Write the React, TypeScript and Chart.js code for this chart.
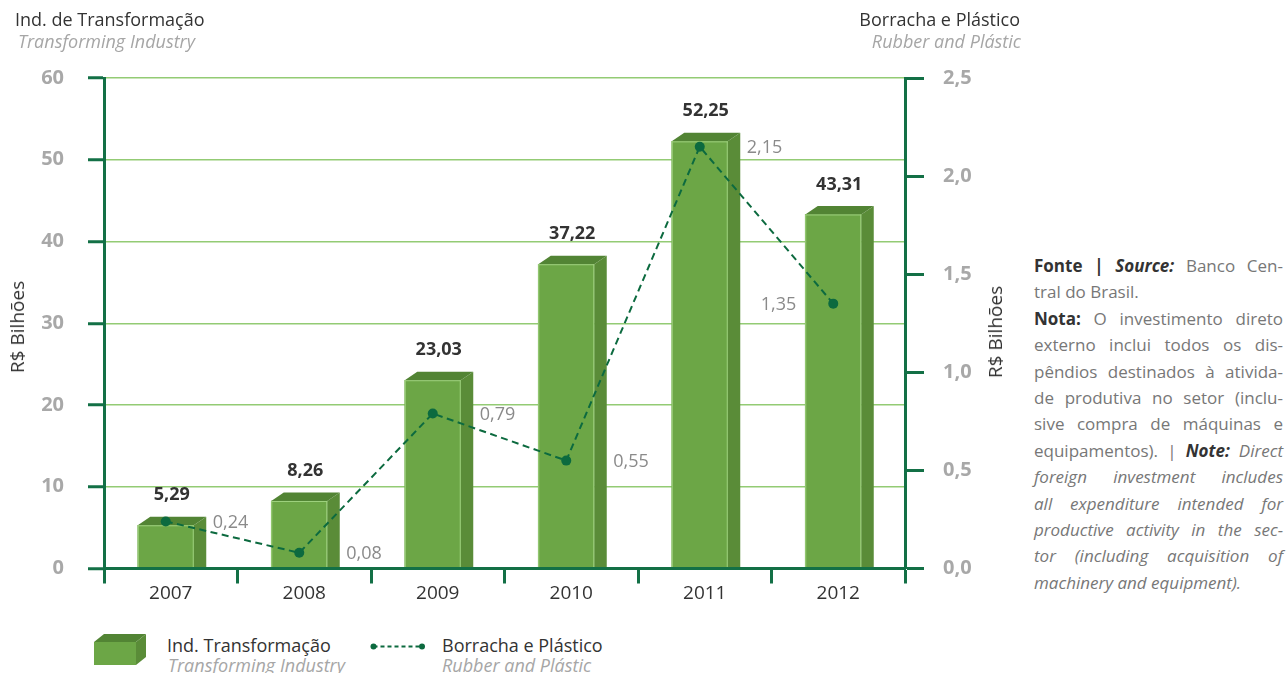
import React, { useEffect, useRef } from "react";
import { Chart, registerables } from "chart.js";

Chart.register(...registerables);

// ---- data ----
const years = ["2007", "2008", "2009", "2010", "2011", "2012"];
const transformacao = [5.29, 8.26, 23.03, 37.22, 52.25, 43.31];
const borracha = [0.24, 0.08, 0.79, 0.55, 2.15, 1.35];
const leftTicks = [0, 10, 20, 30, 40, 50, 60];
const rightTicks = [0, 0.5, 1.0, 1.5, 2.0, 2.5];

// ---- styling ----
const FONT = "'Open Sans'";
const DARK = "#137046";
const LIGHT = "#93cb74";
const FRONT = "#6ca646";
const SIDE = "#5a8c38";
const TOP = "#528434";
const EDGE = "#9fd17f";
const LINE = "#0c6a3f";
const CW = 1030;
const CH = 620;
const AREA_LEFT = 104;
const AREA_RIGHT = 905;
const AREA_TOP = 78;
const AREA_BOTTOM = 568.5;
const SHIFT = -5;
const DX = 12.5;
const DY = 8.5;

const fmt = (v: number, d: number) => v.toFixed(d).replace(".", ",");

const threeDPlugin = {
  id: "threeD",
  beforeDatasetDraw(chart: any) {
    chart.ctx.save();
    chart.ctx.translate(SHIFT, 0);
  },
  afterDatasetDraw(chart: any, args: any) {
    const ctx = chart.ctx;
    if (args.meta.type === "bar") {
      args.meta.data.forEach((el: any) => {
        const { x, y, base, width } = el.getProps(["x", "y", "base", "width"], true);
        const l = x - width / 2;
        const r = x + width / 2;
        ctx.fillStyle = SIDE;
        ctx.beginPath();
        ctx.moveTo(r, y);
        ctx.lineTo(r + DX, y - DY);
        ctx.lineTo(r + DX, base);
        ctx.lineTo(r, base);
        ctx.closePath();
        ctx.fill();
        ctx.fillStyle = TOP;
        ctx.beginPath();
        ctx.moveTo(l, y);
        ctx.lineTo(l + DX, y - DY);
        ctx.lineTo(r + DX, y - DY);
        ctx.lineTo(r, y);
        ctx.closePath();
        ctx.fill();
        ctx.strokeStyle = EDGE;
        ctx.lineWidth = 1;
        ctx.beginPath();
        ctx.moveTo(r - 0.5, y);
        ctx.lineTo(r - 0.5, base);
        ctx.moveTo(l + 0.5, y);
        ctx.lineTo(l + 0.5, base);
        ctx.moveTo(l, y + 0.5);
        ctx.lineTo(r, y + 0.5);
        ctx.stroke();
      });
    }
    ctx.restore();
  },
  afterDatasetsDraw(chart: any) {
    const ctx = chart.ctx;
    ctx.save();
    const barMeta = chart.getDatasetMeta(0);
    ctx.font = `bold 18px ${FONT}`;
    ctx.fillStyle = "#333333";
    ctx.textAlign = "center";
    ctx.textBaseline = "middle";
    barMeta.data.forEach((el: any, i: number) => {
      ctx.fillText(fmt(transformacao[i], 2), el.x + 1, el.y - 30);
    });
    const lineMeta = chart.getDatasetMeta(1);
    ctx.font = `18px ${FONT}`;
    ctx.fillStyle = "#8a8a8a";
    const n = lineMeta.data.length;
    lineMeta.data.forEach((el: any, i: number) => {
      if (i === n - 1) {
        ctx.textAlign = "right";
        ctx.fillText(fmt(borracha[i], 2), el.x - 42, el.y + 1);
      } else {
        ctx.textAlign = "left";
        ctx.fillText(fmt(borracha[i], 2), el.x + 42, el.y + 1);
      }
    });
    ctx.restore();
  },
};

export default function App() {
  const ref = useRef<HTMLCanvasElement>(null);

  useEffect(() => {
    if (!ref.current) return;
    Chart.defaults.font.family = FONT;
    const chart = new Chart(ref.current, {
      type: "bar",
      data: {
        labels: years,
        datasets: [
          {
            type: "bar",
            label: "Ind. Transformação",
            data: transformacao,
            backgroundColor: FRONT,
            borderWidth: 0,
            barThickness: 56,
            yAxisID: "y",
            order: 2,
            clip: false as any,
          },
          {
            type: "line",
            label: "Borracha e Plástico",
            data: borracha,
            borderColor: LINE,
            borderWidth: 2,
            borderDash: [7, 4.5],
            pointRadius: 5,
            pointBackgroundColor: LINE,
            pointBorderWidth: 0,
            tension: 0,
            fill: false,
            yAxisID: "y1",
            order: 1,
            clip: false as any,
          } as any,
        ],
      },
      options: {
        responsive: false,
        animation: false,
        devicePixelRatio: 1,
        events: [],
        layout: { padding: { top: AREA_TOP, left: 0, right: 0, bottom: 0 } },
        plugins: {
          legend: { display: false },
          tooltip: { enabled: false },
        },
        scales: {
          x: {
            type: "category",
            offset: true,
            grid: {
              offset: true,
              drawOnChartArea: false,
              drawTicks: true,
              tickLength: 15,
              tickColor: DARK,
              tickWidth: 3,
            },
            border: { color: DARK, width: 3, z: 1 },
            ticks: {
              color: "#333333",
              font: { size: 19, family: FONT },
              padding: -1,
              maxRotation: 0,
              autoSkip: false,
            },
            afterFit: (s: any) => {
              s.height = CH - AREA_BOTTOM;
            },
          },
          y: {
            type: "linear",
            position: "left",
            min: leftTicks[0],
            max: leftTicks[leftTicks.length - 1],
            afterBuildTicks: (s: any) => {
              s.ticks = leftTicks.map((v) => ({ value: v }));
            },
            ticks: {
              color: "#a8a8a8",
              font: { size: 20, weight: "bold", family: FONT },
              padding: 24,
              callback: (v: any) => String(v),
            },
            grid: {
              color: LIGHT,
              lineWidth: 1.5,
              tickLength: 16,
              tickColor: DARK,
              tickWidth: 3,
            },
            border: { color: DARK, width: 3, z: 1 },
            afterFit: (s: any) => {
              s.width = AREA_LEFT;
            },
          },
          y1: {
            type: "linear",
            position: "right",
            min: rightTicks[0],
            max: rightTicks[rightTicks.length - 1],
            afterBuildTicks: (s: any) => {
              s.ticks = rightTicks.map((v) => ({ value: v }));
            },
            ticks: {
              color: "#a8a8a8",
              font: { size: 20, weight: "bold", family: FONT },
              padding: 19,
              callback: (v: any) => fmt(Number(v), 1),
            },
            grid: {
              drawOnChartArea: false,
              tickLength: 19,
              tickColor: DARK,
              tickWidth: 3,
            },
            border: { color: DARK, width: 3, z: 1 },
            afterFit: (s: any) => {
              s.width = CW - AREA_RIGHT;
            },
          },
        },
      } as any,
      plugins: [threeDPlugin],
    });
    return () => chart.destroy();
  }, []);

  const dark = "#333333";
  const grey = "#a6a6a6";
  const noteGrey = "#777777";
  const lineStyle: React.CSSProperties = {
    height: 26.4,
    lineHeight: "26.4px",
    whiteSpace: "nowrap",
    textAlign: "justify",
    textAlignLast: "justify" as any,
  };
  const lastStyle: React.CSSProperties = { ...lineStyle, textAlignLast: "left" as any, textAlign: "left" };

  return (
    <div
      style={{
        position: "absolute",
        left: 0,
        top: 0,
        width: 1288,
        height: 673,
        overflow: "hidden",
        background: "#ffffff",
        fontFamily: FONT,
      }}
    >
      <canvas
        ref={ref}
        width={CW}
        height={CH}
        style={{ position: "absolute", left: 0, top: 0, width: CW, height: CH }}
      />

      {/* Headers */}
      <div style={{ position: "absolute", left: 15, top: 7, fontSize: 18, lineHeight: "24px", color: dark }}>
        Ind. de Transformação
      </div>
      <div style={{ position: "absolute", left: 18, top: 29, fontSize: 18, lineHeight: "24px", color: grey, fontStyle: "italic" }}>
        Transforming Industry
      </div>
      <div style={{ position: "absolute", right: 1288 - 1020, top: 7, fontSize: 18, lineHeight: "24px", color: dark, textAlign: "right" }}>
        Borracha e Plástico
      </div>
      <div style={{ position: "absolute", right: 1288 - 1021, top: 29, fontSize: 18, lineHeight: "24px", color: grey, fontStyle: "italic", textAlign: "right" }}>
        Rubber and Plástic
      </div>

      {/* Axis titles */}
      <div
        style={{
          position: "absolute",
          left: 17,
          top: 327,
          transform: "translate(-50%, -50%) rotate(-90deg)",
          fontSize: 19,
          color: dark,
          whiteSpace: "nowrap",
        }}
      >
        R$ Bilhões
      </div>
      <div
        style={{
          position: "absolute",
          left: 995,
          top: 332,
          transform: "translate(-50%, -50%) rotate(-90deg)",
          fontSize: 19,
          color: dark,
          whiteSpace: "nowrap",
        }}
      >
        R$ Bilhões
      </div>

      {/* Legend */}
      <svg style={{ position: "absolute", left: 93, top: 633 }} width={56} height={34}>
        <polygon points="1,9 11,1 53,1 43,9" fill={TOP} />
        <polygon points="43,9 53,1 53,24 43,32" fill={SIDE} />
        <rect x={1} y={9} width={42} height={23} fill={FRONT} />
      </svg>
      <div style={{ position: "absolute", left: 167, top: 633, fontSize: 18, lineHeight: "24px", color: dark }}>
        Ind. Transformação
      </div>
      <div style={{ position: "absolute", left: 168, top: 653, fontSize: 18, lineHeight: "24px", color: grey, fontStyle: "italic" }}>
        Transforming Industry
      </div>
      <svg style={{ position: "absolute", left: 368, top: 640 }} width={60} height={13}>
        <line x1={5.5} y1={6.5} x2={54} y2={6.5} stroke={LINE} strokeWidth={2} strokeDasharray="4,3" />
        <circle cx={5.5} cy={6.5} r={3} fill={LINE} />
        <circle cx={54} cy={6.5} r={3} fill={LINE} />
      </svg>
      <div style={{ position: "absolute", left: 442, top: 633, fontSize: 18, lineHeight: "24px", color: dark }}>
        Borracha e Plástico
      </div>
      <div style={{ position: "absolute", left: 442, top: 653, fontSize: 18, lineHeight: "24px", color: grey, fontStyle: "italic" }}>
        Rubber and Plástic
      </div>

      {/* Note */}
      <div style={{ position: "absolute", left: 1034, top: 253, width: 249, fontSize: 17, color: noteGrey }}>
        <div style={lineStyle}>
          <b style={{ color: dark }}>
            Fonte | <i>Source:</i>
          </b>{" "}
          Banco Cen-
        </div>
        <div style={lastStyle}>tral do Brasil.</div>
        <div style={lineStyle}>
          <b style={{ color: dark }}>Nota:</b> O investimento direto
        </div>
        <div style={lineStyle}>externo inclui todos os dis-</div>
        <div style={lineStyle}>pêndios destinados à ativida-</div>
        <div style={lineStyle}>de produtiva no setor (inclu-</div>
        <div style={lineStyle}>sive compra de máquinas e</div>
        <div style={lineStyle}>
          equipamentos). | <b style={{ color: dark }}><i>Note:</i></b> <i>Direct</i>
        </div>
        <div style={{ ...lineStyle, fontStyle: "italic" }}>foreign investment includes</div>
        <div style={{ ...lineStyle, fontStyle: "italic" }}>all expenditure intended for</div>
        <div style={{ ...lineStyle, fontStyle: "italic" }}>productive activity in the sec-</div>
        <div style={{ ...lineStyle, fontStyle: "italic" }}>tor (including acquisition of</div>
        <div style={{ ...lastStyle, fontStyle: "italic" }}>machinery and equipment).</div>
      </div>
    </div>
  );
}
